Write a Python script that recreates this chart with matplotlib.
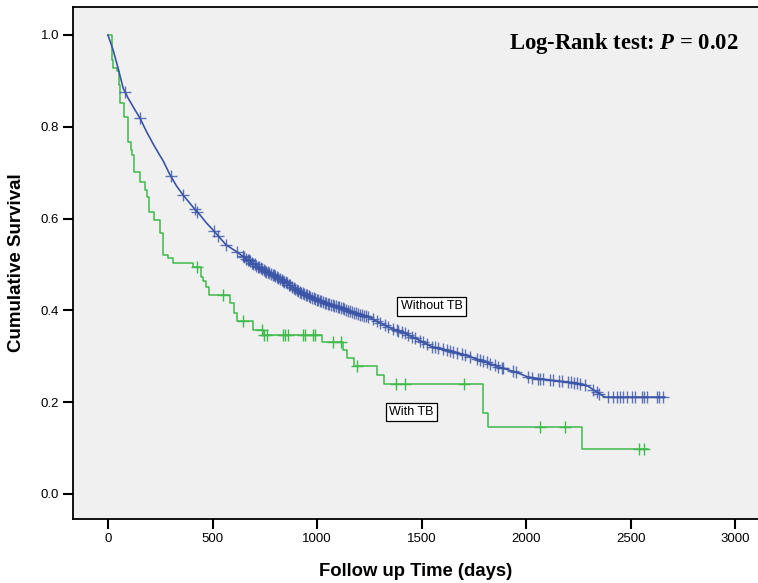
import numpy as np
import matplotlib
matplotlib.use("Agg")
import matplotlib.pyplot as plt

# ---------------- data ----------------
# Without TB (dense Kaplan-Meier curve read as points)
no_tb_time = [0, 25, 49, 73, 97, 129, 153, 185, 217, 249, 264, 296, 328, 360, 416, 440,
              472, 507, 564, 615, 663, 727, 790, 854, 918, 990, 1052, 1117, 1181, 1243,
              1300, 1356, 1420, 1484, 1548, 1611, 1675, 1739, 1802, 1874, 1946, 2008,
              2065, 2151, 2233, 2295, 2338, 2376, 2663]
no_tb_surv = [1.000, 0.967, 0.927, 0.884, 0.862, 0.837, 0.819, 0.789, 0.762, 0.737, 0.726,
              0.696, 0.671, 0.651, 0.620, 0.608, 0.590, 0.573, 0.543, 0.528, 0.512, 0.492,
              0.477, 0.460, 0.440, 0.425, 0.414, 0.405, 0.394, 0.386, 0.373, 0.361, 0.350,
              0.336, 0.321, 0.314, 0.307, 0.298, 0.288, 0.276, 0.266, 0.255, 0.251, 0.246,
              0.242, 0.235, 0.222, 0.211, 0.211]
no_tb_censored = [81, 153, 301, 360, 416, 427, 507, 527, 564, 615,
                  645, 652, 660, 668, 673, 680, 688, 695, 701, 709, 716, 722, 730, 737, 745,
                  751, 758, 766, 772, 780, 787, 793, 801, 808, 815, 823, 830, 836, 844, 851,
                  858, 866, 872, 880, 888, 895, 902, 910, 917, 925, 931, 939, 946, 954, 961,
                  968, 976, 983, 991, 998, 1006, 1013, 1021, 1028, 1036, 1044, 1051, 1059,
                  1066, 1074, 1082, 1090, 1098, 1106, 1114, 1122, 1131, 1139, 1148, 1157,
                  1166, 1175, 1185, 1195, 1205, 1215, 1225, 1234,
                  1243, 1267, 1286, 1300, 1324, 1338, 1362, 1381, 1386, 1405, 1420, 1434,
                  1453, 1467, 1491, 1506, 1525, 1549, 1563, 1577, 1601, 1620, 1635, 1649,
                  1668, 1692, 1707, 1730, 1764, 1778, 1792, 1811, 1826, 1850, 1864, 1882,
                  1890, 1938, 1951, 2009, 2026, 2057, 2065, 2081, 2113, 2129, 2158, 2169,
                  2201, 2212, 2228, 2241, 2257, 2281, 2320, 2336, 2349, 2392, 2416, 2432,
                  2448, 2461, 2480, 2504, 2520, 2552, 2563, 2575, 2623, 2636, 2655]

# With TB (step curve)
tb_time = [0, 18, 25, 42, 54, 57, 78, 97, 108, 115, 124, 153, 177, 188, 197, 221, 249,
           261, 264, 285, 310, 408, 443, 456, 469, 484, 583, 602, 615, 695, 742, 1022,
           1122, 1141, 1176, 1285, 1321, 1791, 1818, 2265, 2582]
tb_surv = [1.000, 0.946, 0.928, 0.921, 0.891, 0.851, 0.822, 0.767, 0.749, 0.738, 0.702,
           0.680, 0.662, 0.648, 0.615, 0.597, 0.568, 0.546, 0.521, 0.515, 0.503, 0.495,
           0.473, 0.465, 0.450, 0.434, 0.416, 0.394, 0.376, 0.358, 0.347, 0.332, 0.314,
           0.296, 0.278, 0.260, 0.240, 0.177, 0.147, 0.098, 0.098]
tb_censored = [424, 551, 647, 735, 746, 759, 835, 846, 862, 934, 942, 982, 990, 1076,
               1112, 1189, 1377, 1420, 1702, 2065, 2185, 2540, 2564]

x_ticks = [0, 500, 1000, 1500, 2000, 2500, 3000]
y_ticks = [0.0, 0.2, 0.4, 0.6, 0.8, 1.0]

BLUE = "#3a55a7"
GREEN = "#3fba4b"

# ---------------- figure ----------------
plt.rcParams["font.family"] = ["Liberation Sans", "DejaVu Sans"]
plt.rcParams["mathtext.fontset"] = "custom"
plt.rcParams["mathtext.rm"] = "Liberation Serif:bold"
plt.rcParams["mathtext.it"] = "Liberation Serif:bold:italic"

W, H = 758, 583
fig = plt.figure(figsize=(W / 100, H / 100), dpi=100)
fig.patch.set_facecolor("white")
ax = fig.add_axes([73 / W, 1 - 519 / H, 1 - 73 / W, 512 / H])
ax.set_facecolor("#f0f0f0")

# Without TB
ax.plot(no_tb_time, no_tb_surv, color=BLUE, lw=1.2, zorder=3)
cy = np.interp(no_tb_censored, no_tb_time, no_tb_surv)
ax.plot(no_tb_censored, cy, ls="none", marker="+", ms=8, mew=1.0,
        color=BLUE, alpha=0.8, zorder=3)

# With TB
ax.step(tb_time, tb_surv, where="post", color=GREEN, lw=1.1, zorder=2)
tt = np.asarray(tb_time)
ts = np.asarray(tb_surv)
idx = np.searchsorted(tt, tb_censored, side="right") - 1
ax.plot(tb_censored, ts[idx], ls="none", marker="+", ms=8, mew=1.0,
        color=GREEN, zorder=2)

ax.set_xlim(-167, 3108)
ax.set_ylim(-0.0545, 1.061)
ax.set_xticks(x_ticks)
ax.set_xticklabels([str(v) for v in x_ticks])
ax.set_yticks(y_ticks)
ax.set_yticklabels([f"{v:.1f}" for v in y_ticks])

for s in ["left", "bottom", "top"]:
    ax.spines[s].set_linewidth(1.3)
    ax.spines[s].set_color("black")
ax.spines["right"].set_visible(False)
ax.tick_params(axis="both", direction="out", length=7, width=1.5, labelsize=9.5,
               colors="black", pad=3)

ax.set_xlabel("Follow up Time (days)", fontsize=13.3, fontweight="bold", labelpad=13)
ax.set_ylabel("Cumulative Survival", fontsize=13.5, fontweight="bold", labelpad=11)

ax.text(1547, 0.4085, "Without TB", fontsize=9, ha="center", va="center",
        bbox=dict(boxstyle="square,pad=0.25", fc="white", ec="black", lw=0.9), zorder=5)
ax.text(1451, 0.1786, "With TB", fontsize=9, ha="center", va="center",
        bbox=dict(boxstyle="square,pad=0.25", fc="white", ec="black", lw=0.9), zorder=5)

fig.text(509 / W, 1 - 43 / H, r"Log-Rank test: $P$ = 0.02", fontsize=16.3,
         family="Liberation Serif", fontweight="bold", ha="left", va="center")

fig.savefig("out.png", dpi=100)
